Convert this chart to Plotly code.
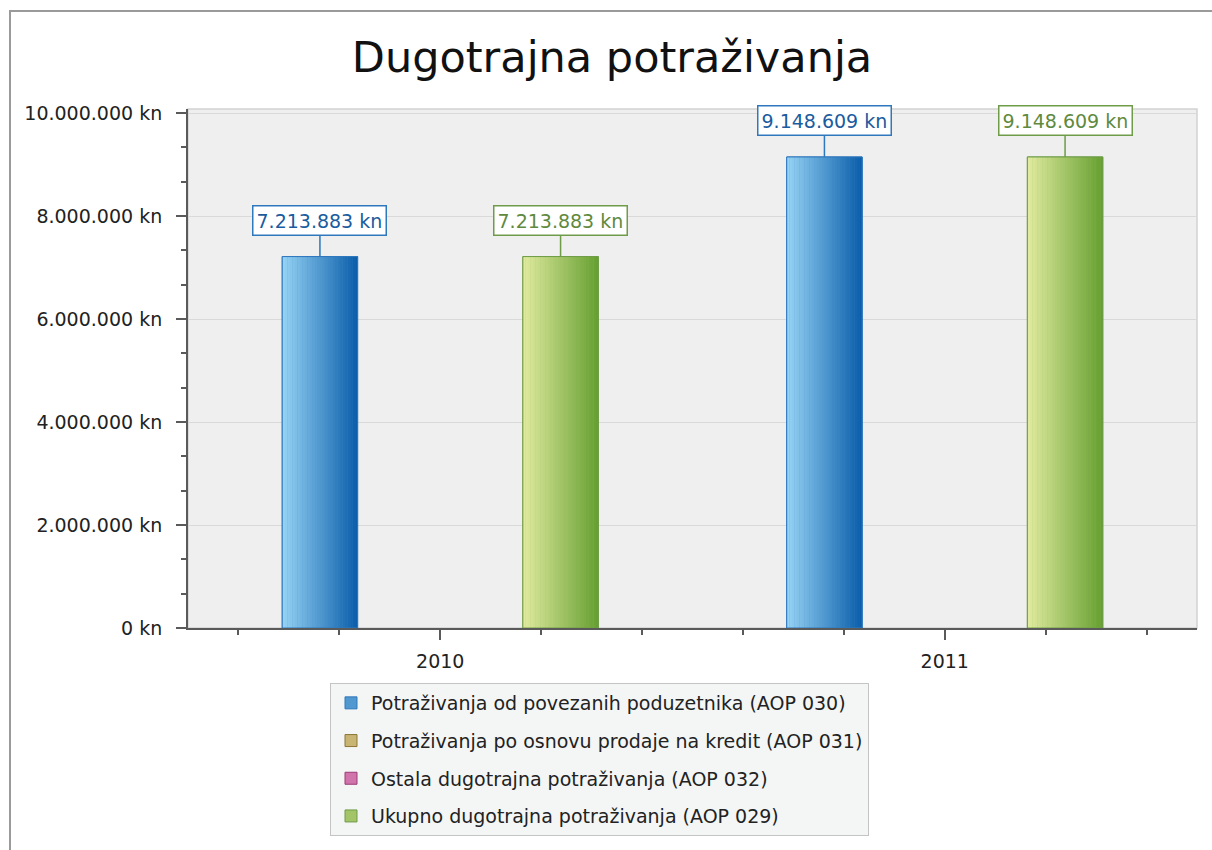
import plotly.graph_objects as go

categories = ["2010", "2011"]
series_names = [
    "Potraživanja od povezanih poduzetnika (AOP 030)",
    "Potraživanja po osnovu prodaje na kredit (AOP 031)",
    "Ostala dugotrajna potraživanja (AOP 032)",
    "Ukupno dugotrajna potraživanja (AOP 029)",
]
aop030 = [7213883, 9148609]
aop031 = [0, 0]
aop032 = [0, 0]
aop029 = [7213883, 9148609]
series_values = [aop030, aop031, aop032, aop029]

# style (light edge, dark edge, border, label colour)
styles = [
    ("#95d2f3", "#0b5eab", "#2f78bd", "#1a5c9e"),
    ("#f3e4a6", "#9c8440", "#8c7638", "#8c7638"),
    ("#f2a8d6", "#ad3f80", "#9c3a74", "#9c3a74"),
    ("#dfea9e", "#67a032", "#6f9c48", "#5f8a3e"),
]


def hex2rgb(h):
    h = h.lstrip("#")
    return tuple(int(h[i:i + 2], 16) for i in (0, 2, 4))


def lerp(c1, c2, t):
    a, b = hex2rgb(c1), hex2rgb(c2)
    return "rgb(%d,%d,%d)" % tuple(round(a[i] + (b[i] - a[i]) * t) for i in range(3))


x_idx = list(range(len(categories)))
n_series = len(series_names)
group_width = 0.636
slot = group_width / n_series
bar_w = slot * 0.94
N_STRIPS = 30

fig = go.Figure()
annotations = []
for s, (name, vals) in enumerate(zip(series_names, series_values)):
    light, dark, border, labc = styles[s]
    yv = [v if v else None for v in vals]
    center_off = -group_width / 2 + slot * (s + 0.5)
    left = center_off - bar_w / 2
    fig.add_trace(go.Bar(
        x=x_idx, y=yv, name=name, offset=left, width=bar_w,
        marker=dict(color=lerp(light, dark, 0.5), line=dict(color=border, width=1)),
        showlegend=True, legendgroup=f"g{s}", hoverinfo="skip",
    ))
    sw = bar_w / N_STRIPS
    for k in range(N_STRIPS):
        t = k / (N_STRIPS - 1)
        fig.add_trace(go.Bar(
            x=x_idx, y=yv, offset=left + k * sw, width=sw * 1.1,
            marker=dict(color=lerp(light, dark, t), line=dict(width=0)),
            showlegend=False, legendgroup=f"g{s}", hoverinfo="skip",
        ))
    fig.add_trace(go.Bar(
        x=x_idx, y=yv, offset=left, width=bar_w,
        marker=dict(color="rgba(0,0,0,0)", line=dict(color=border, width=1)),
        showlegend=False, legendgroup=f"g{s}", hoverinfo="skip",
    ))
    for i, v in enumerate(vals):
        if v > 0:
            annotations.append(dict(
                x=x_idx[i] + center_off, y=v, xref="x", yref="y",
                text=f"{v:,}".replace(",", ".") + " kn",
                showarrow=True, arrowhead=0, arrowwidth=1.5, arrowcolor=border,
                ax=0, ay=-36, standoff=0,
                font=dict(family="DejaVu Sans", size=19, color=labc),
                bgcolor="white", bordercolor=border, borderwidth=1.5, borderpad=3,
            ))

L, R, T, B = 188, 15, 109, 222
W, H = 1212, 850
pw, ph = W - L - R, H - T - B


def px_x(p):
    return (p - L) / pw


def px_y(p):
    return (H - B - p) / ph


shapes = [
    dict(type="rect", xref="paper", yref="paper", x0=0, x1=1, y0=0, y1=1,
         line=dict(color="#d2d2d2", width=1.5), layer="below"),
    dict(type="rect", xref="paper", yref="paper", x0=px_x(10), x1=px_x(W + 10),
         y0=px_y(H + 10), y1=px_y(11), line=dict(color="#9a9a9a", width=2)),
]

fig.update_layout(
    width=W, height=H,
    margin=dict(l=L, r=R, t=T, b=B),
    paper_bgcolor="white", plot_bgcolor="#efefef",
    barmode="overlay",
    separators=",.",
    font=dict(family="DejaVu Sans", size=19, color="#222222"),
    title=dict(text="Dugotrajna potraživanja", x=612 / W, xref="container",
               y=1 - 57 / H, yref="container", xanchor="center", yanchor="middle",
               font=dict(family="DejaVu Sans", size=43, color="#111111")),
    xaxis=dict(range=[-0.5, 1.5], tickmode="array", tickvals=x_idx, ticktext=categories,
               showgrid=False, zeroline=False, showline=True, linecolor="#5a5a5a", linewidth=2,
               ticks="outside", ticklen=10, tickcolor="#5a5a5a", tickwidth=2,
               ticklabelstandoff=5,
               tickfont=dict(size=19, color="#222222"),
               minor=dict(tickmode="linear", tick0=-0.4, dtick=0.2, ticks="outside",
                          ticklen=5, tickcolor="#5a5a5a", tickwidth=2, showgrid=False)),
    yaxis=dict(range=[0, 10080000], tickmode="linear", tick0=0, dtick=2000000,
               tickformat=",d", ticksuffix=" kn",
               showgrid=True, gridcolor="#d9d9d9", gridwidth=1,
               zeroline=False, showline=True, linecolor="#5a5a5a", linewidth=2,
               ticks="outside", ticklen=10, tickcolor="#5a5a5a", tickwidth=2,
               ticklabelstandoff=10,
               tickfont=dict(size=19, color="#222222"),
               minor=dict(tickmode="linear", tick0=0, dtick=2000000 / 3, ticks="outside",
                          ticklen=5, tickcolor="#5a5a5a", tickwidth=2, showgrid=False)),
    legend=dict(x=px_x(330), y=px_y(683), xanchor="left", yanchor="top",
                bgcolor="#f4f6f6", bordercolor="#c4c4c4", borderwidth=1,
                font=dict(family="DejaVu Sans", size=19, color="#222222"),
                traceorder="grouped", tracegroupgap=10),
    annotations=annotations,
    shapes=shapes,
)

fig.write_html("out.html", config={"displayModeBar": False},
               post_script="document.body.style.margin='0';")
